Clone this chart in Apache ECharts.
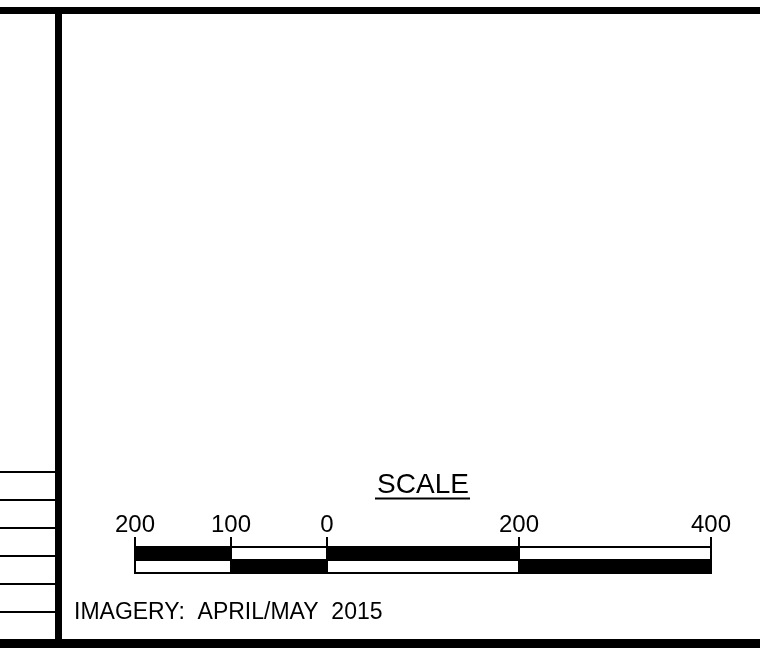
<!DOCTYPE html>
<html>
<head>
<meta charset="utf-8">
<script src="https://cdn.jsdelivr.net/npm/echarts@6/dist/echarts.min.js"></script>
<style>html,body{margin:0;padding:0;background:#fff;}#c{width:760px;height:648px;}</style>
</head>
<body>
<div id="c"></div>
<script>
// Scale bar data
const tickValues = [-200, -100, 0, 200, 400];
const tickLabels = ['200', '100', '0', '200', '400'];
const segStart = [-200, -100, 0, 200];
const segEnd = [-100, 0, 200, 400];
const topFilled = [1, 0, 1, 0];
const bottomFilled = [0, 1, 0, 1];
const titleText = 'SCALE';
const noteText = 'IMAGERY:  APRIL/MAY  2015';
const leftRuleY = [472, 500, 528, 556, 584, 612];

const FONT = '"Liberation Sans", Arial, sans-serif';

const segData = [];
for (let i = 0; i < segStart.length; i++) {
  segData.push([segStart[i], segEnd[i], 0, topFilled[i]]);
  segData.push([segStart[i], segEnd[i], 1, bottomFilled[i]]);
}

const chart = echarts.init(document.getElementById('c'), null, {renderer: 'canvas'});

const graphics = [
  {type: 'line', shape: {x1: 0, y1: 10.5, x2: 760, y2: 10.5}, style: {stroke: '#000', lineWidth: 7}},
  {type: 'line', shape: {x1: 58.5, y1: 8, x2: 58.5, y2: 648}, style: {stroke: '#000', lineWidth: 7}},
  {type: 'rect', shape: {x: 0, y: 639, width: 760, height: 9}, style: {fill: '#000'}},
  {type: 'text', x: 423, y: 485, style: {text: titleText, font: '28px ' + FONT, fill: '#000', align: 'center', verticalAlign: 'middle'}},
  {type: 'line', shape: {x1: 375, y1: 498.5, x2: 470, y2: 498.5}, style: {stroke: '#000', lineWidth: 2}},
  {type: 'text', x: 74, y: 613, style: {text: noteText, font: '23px ' + FONT, fill: '#000', align: 'left', verticalAlign: 'middle'}}
];
leftRuleY.forEach(function (y) {
  graphics.push({type: 'line', shape: {x1: 0, y1: y, x2: 55, y2: y}, style: {stroke: '#000', lineWidth: 2}});
});

chart.setOption({
  animation: false,
  backgroundColor: '#fff',
  grid: {left: 135, width: 576, top: 547, height: 26, containLabel: false},
  xAxis: {
    type: 'value', min: -200, max: 400, position: 'top',
    axisLine: {show: false, onZero: false},
    splitLine: {show: false},
    axisTick: {show: false},
    axisLabel: {
      show: true, customValues: tickValues, margin: 10,
      formatter: function (v) { return tickLabels[tickValues.indexOf(v)]; },
      color: '#000', fontSize: 24, fontFamily: FONT
    }
  },
  yAxis: {type: 'value', min: 0, max: 2, show: false},
  series: [{
    type: 'custom',
    data: segData,
    clip: false,
    renderItem: function (params, api) {
      const s = api.value(0), e = api.value(1), row = api.value(2), f = api.value(3);
      const p1 = api.coord([s, 2 - row]);
      const p2 = api.coord([e, 1 - row]);
      return {
        type: 'rect',
        shape: {x: p1[0], y: p1[1], width: p2[0] - p1[0], height: p2[1] - p1[1]},
        style: {fill: f ? '#000' : '#fff', stroke: '#000', lineWidth: 2}
      };
    }
  }, {
    type: 'custom',
    data: tickValues.map(function (v) { return [v]; }),
    clip: false,
    renderItem: function (params, api) {
      const p = api.coord([api.value(0), 2]);
      return {
        type: 'line',
        shape: {x1: p[0], y1: p[1], x2: p[0], y2: p[1] - 10},
        style: {stroke: '#000', lineWidth: 2}
      };
    }
  }],
  graphic: graphics
});
</script>
</body>
</html>
